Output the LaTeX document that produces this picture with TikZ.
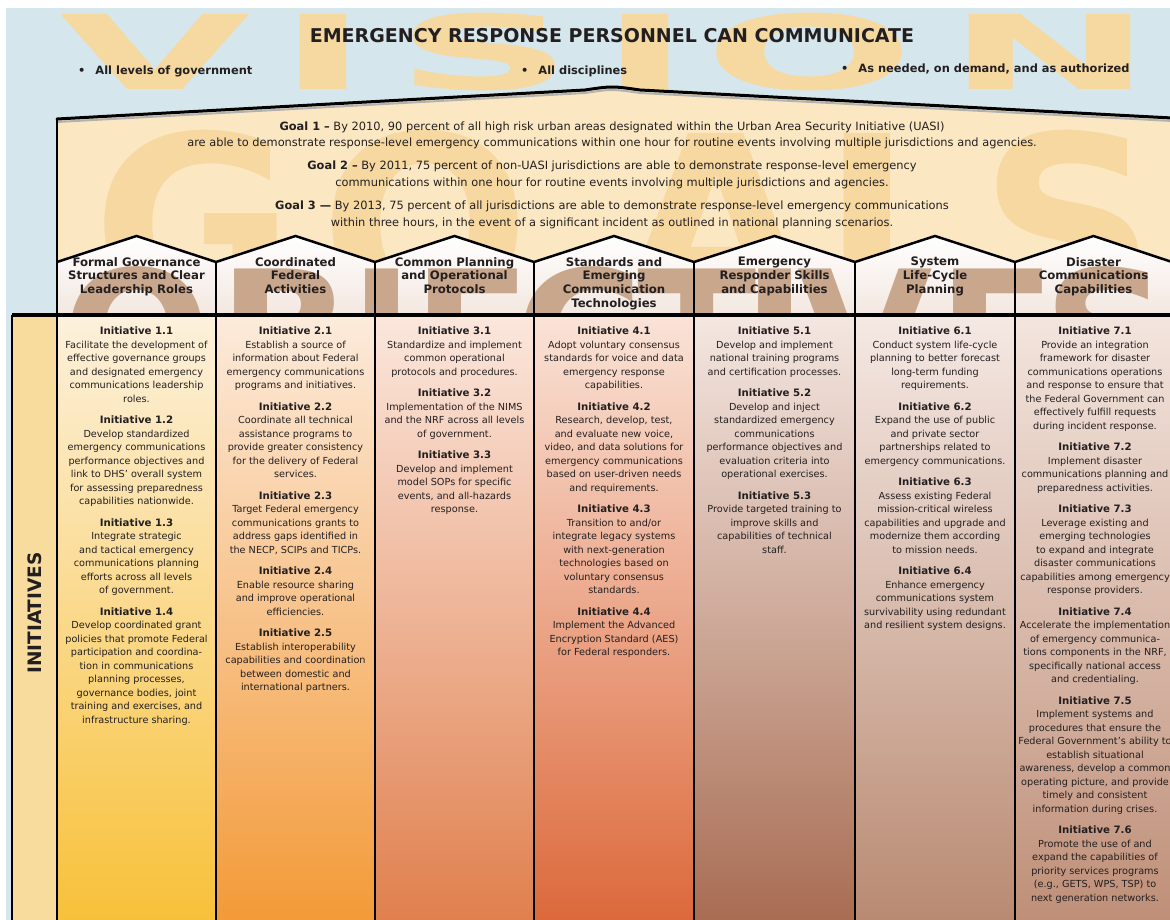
\documentclass[tikz,border=0pt]{standalone}
\usepackage{fontspec}
\setmainfont{DejaVu Sans}
\definecolor{bgblue}{HTML}{D5E7EC}
\definecolor{visc}{HTML}{F6D9A0}
\definecolor{goalbg}{HTML}{FBE8C3}
\definecolor{goalc}{HTML}{F6D8A0}
\definecolor{objc}{HTML}{C9A78C}
\definecolor{txt}{HTML}{231F20}
\definecolor{labc}{HTML}{F7DC9E}
\definecolor{hdrbot}{HTML}{F3E7E0}
\definecolor{ca}{HTML}{FDF1DC}\definecolor{cA}{HTML}{F8C13A}
\definecolor{cb}{HTML}{FCEBDC}\definecolor{cB}{HTML}{F39A38}
\definecolor{cc}{HTML}{FBE7DD}\definecolor{cC}{HTML}{E0804E}
\definecolor{cd}{HTML}{FAE3D7}\definecolor{cD}{HTML}{DC693B}
\definecolor{ce}{HTML}{F4E7E1}\definecolor{cE}{HTML}{A86D53}
\definecolor{cf}{HTML}{F5E9E4}\definecolor{cF}{HTML}{B98A72}
\definecolor{cg}{HTML}{F3E5DE}\definecolor{cG}{HTML}{BF8F78}
\newcommand{\inihead}[1]{{\fontsize{10.2}{13.5}\selectfont\bfseries #1}}
\begin{document}
\begin{tikzpicture}[x=1pt,y=-1pt,
  bigv/.style={font=\fontsize{103}{103}\selectfont\bfseries, text=visc, xscale=2.4, inner sep=0, anchor=base},
  bigg/.style={font=\fontsize{247}{247}\selectfont\bfseries, text=goalc, inner sep=0, anchor=base},
  bigo/.style={font=\fontsize{175}{175}\selectfont\bfseries, text=objc, inner sep=0, anchor=base},
  bul/.style={font=\fontsize{11.4}{12}\selectfont\bfseries, text=txt, inner sep=0, anchor=base west},
  goaltxt/.style={font=\fontsize{11.4}{12}\selectfont, text=txt, inner sep=0, anchor=base},
  hdr/.style={font=\fontsize{11.7}{13.7}\selectfont\bfseries, text=txt, inner sep=0, anchor=north, align=center},
  initxt/.style={font=\fontsize{9.7}{13.5}\selectfont, text=txt, inner sep=0, anchor=north, align=center},
  bline/.style={line width=2.8pt, black},
  rline/.style={line width=2.5pt, black, line join=miter}
]
\useasboundingbox (0,0) rectangle (1170,920);
\fill[white] (0,0) rectangle (1170,920);
\fill[bgblue] (6,8) rectangle (1170,920);

% VISION letters
\begin{scope}
\clip (6,8) rectangle (1170,130);
\foreach \ch/\cx/\nm in {V/155/lv1, I/323/lv2, S/485/lv3, I/645/lv4, O/810/lv5, N/1050/lv6}
  \node[bigv] (\nm) at (\cx,90) {\ch};
\end{scope}

% title and bullets
\node[font=\fontsize{19}{19}\selectfont\bfseries, text=txt, inner sep=0, anchor=base] (title) at (612,43) {EMERGENCY RESPONSE PERSONNEL CAN COMMUNICATE};
\node[bul] (b1) at (78,74.5) {•\hspace{10pt}All levels of government};
\node[bul] (b2) at (521,74.5) {•\hspace{10pt}All disciplines};
\node[bul] (b3) at (841,73) {•\hspace{10pt}As needed, on demand, and as authorized};

% goal box
\path[fill=goalbg] (57,315) -- (57,119) -- (585,90) .. controls (612,86) .. (640,90) -- (1172,118) -- (1172,315) -- cycle;
\begin{scope}
\clip (57,315) -- (57,119) -- (585,90) .. controls (612,86) .. (640,90) -- (1172,118) -- (1172,315) -- cycle;
\foreach \ch/\cx/\nm in {G/194/lg1, O/425/lg2, A/716/lg3, L/900/lg4, S/1068/lg5}
  \node[bigg] (\nm) at (\cx,313) {\ch};
\end{scope}
\draw[line width=2pt, gray!60, line cap=round] (57,122) -- (585,93) .. controls (612,89) .. (640,93) -- (1172,121);
\draw[line width=3pt, line cap=round] (57,119) -- (585,90) .. controls (612,86) .. (640,90) -- (1172,118);
\draw[bline] (57,119) -- (57,262);

\node[goaltxt] (g1a) at (612,131) {\textbf{Goal 1 –} By 2010, 90 percent of all high risk urban areas designated within the Urban Area Security Initiative (UASI)};
\node[goaltxt] (g1b) at (612,147) {are able to demonstrate response-level emergency communications within one hour for routine events involving multiple jurisdictions and agencies.};
\node[goaltxt] (g2a) at (612,170) {\textbf{Goal 2 –} By 2011, 75 percent of non-UASI jurisdictions are able to demonstrate response-level emergency};
\node[goaltxt] (g2b) at (612,187) {communications within one hour for routine events involving multiple jurisdictions and agencies.};
\node[goaltxt] (g3a) at (612,210) {\textbf{Goal 3 —} By 2013, 75 percent of all jurisdictions are able to demonstrate response-level emergency communications};
\node[goaltxt] (g3b) at (612,226) {within three hours, in the event of a significant incident as outlined in national planning scenarios.};

% objective headers
\foreach \xa/\xb in {57/216, 216/375, 375/534, 534/694, 694/855, 855/1015, 1015/1172}
  \shade[top color=white, bottom color=hdrbot] (\xa,315) -- (\xa,262) -- ({(\xa+\xb)/2},236) -- (\xb,262) -- (\xb,315) -- cycle;
\begin{scope}
\clip (57,262) rectangle (1172,315);
\foreach \ch/\cx/\nm in {O/137/lo1, B/285/lo2, J/382/lo3, E/472/lo4, C/580/lo5, T/697/lo6, I/775/lo7, V/865/lo8, E/997/lo9, S/1107/lo10}
  \node[bigo] (\nm) at (\cx,396) {\ch};
\end{scope}
\draw[rline] (57,262) -- (136.5,236) -- (216,262) -- (295.5,236) -- (375,262) -- (454.5,236) -- (534,262) -- (614,236) -- (694,262) -- (774.5,236) -- (855,262) -- (935,236) -- (1015,262) -- (1093.5,236) -- (1172,262);
\foreach \x in {57,216,375,534,694,855,1015}
  \draw[bline] (\x,262) -- (\x,315);

\node[hdr] (h1) at (136.5,257) {Formal Governance\\Structures and Clear\\Leadership Roles};
\node[hdr] (h2) at (295.5,257) {Coordinated\\Federal\\Activities};
\node[hdr] (h3) at (454.5,257) {Common Planning\\and Operational\\Protocols};
\node[hdr] (h4) at (614,257) {Standards and\\Emerging\\Communication\\Technologies};
\node[hdr] (h5) at (774.5,257) {Emergency\\Responder Skills\\and Capabilities};
\node[hdr] (h6) at (935,257) {System\\Life-Cycle\\Planning};
\node[hdr] (h7) at (1093.5,257) {Disaster\\Communications\\Capabilities};

% initiatives area
\fill[labc] (12,315) rectangle (57,920);
\shade[top color=ca, bottom color=cA] (57,315) rectangle (216,920);
\shade[top color=cb, bottom color=cB] (216,315) rectangle (375,920);
\shade[top color=cc, bottom color=cC] (375,315) rectangle (534,920);
\shade[top color=cd, bottom color=cD] (534,315) rectangle (694,920);
\shade[top color=ce, bottom color=cE] (694,315) rectangle (855,920);
\shade[top color=cf, bottom color=cF] (855,315) rectangle (1015,920);
\shade[top color=cg, bottom color=cG] (1015,315) rectangle (1172,920);
\draw[line width=3.5pt] (12,315) -- (1172,315);
\foreach \x in {12,57,216,375,534,694,855,1015}
  \draw[bline] (\x,315) -- (\x,920);

\node[rotate=90, font=\fontsize{18.5}{18.5}\selectfont\bfseries, text=txt, inner sep=0] (lab) at (35,613) {INITIATIVES};

\node[initxt] (c1) at (136.5,327) {\inihead{Initiative 1.1}\\
Facilitate the development of\\
effective governance groups\\
and designated emergency\\
communications leadership\\
roles.\\[8pt]
\inihead{Initiative 1.2}\\
Develop standardized\\
emergency communications\\
performance objectives and\\
link to DHS’ overall system\\
for assessing preparedness\\
capabilities nationwide.\\[8pt]
\inihead{Initiative 1.3}\\
Integrate strategic\\
and tactical emergency\\
communications planning\\
efforts across all levels\\
of government.\\[8pt]
\inihead{Initiative 1.4}\\
Develop coordinated grant\\
policies that promote Federal\\
participation and coordina-\\
tion in communications\\
planning processes,\\
governance bodies, joint\\
training and exercises, and\\
infrastructure sharing.};

\node[initxt] (c2) at (295.5,327) {\inihead{Initiative 2.1}\\
Establish a source of\\
information about Federal\\
emergency communications\\
programs and initiatives.\\[8pt]
\inihead{Initiative 2.2}\\
Coordinate all technical\\
assistance programs to\\
provide greater consistency\\
for the delivery of Federal\\
services.\\[8pt]
\inihead{Initiative 2.3}\\
Target Federal emergency\\
communications grants to\\
address gaps identified in\\
the NECP, SCIPs and TICPs.\\[8pt]
\inihead{Initiative 2.4}\\
Enable resource sharing\\
and improve operational\\
efficiencies.\\[8pt]
\inihead{Initiative 2.5}\\
Establish interoperability\\
capabilities and coordination\\
between domestic and\\
international partners.};

\node[initxt] (c3) at (454.5,327) {\inihead{Initiative 3.1}\\
Standardize and implement\\
common operational\\
protocols and procedures.\\[8pt]
\inihead{Initiative 3.2}\\
Implementation of the NIMS\\
and the NRF across all levels\\
of government.\\[8pt]
\inihead{Initiative 3.3}\\
Develop and implement\\
model SOPs for specific\\
events, and all-hazards\\
response.};

\node[initxt] (c4) at (614,327) {\inihead{Initiative 4.1}\\
Adopt voluntary consensus\\
standards for voice and data\\
emergency response\\
capabilities.\\[8pt]
\inihead{Initiative 4.2}\\
Research, develop, test,\\
and evaluate new voice,\\
video, and data solutions for\\
emergency communications\\
based on user-driven needs\\
and requirements.\\[8pt]
\inihead{Initiative 4.3}\\
Transition to and/or\\
integrate legacy systems\\
with next-generation\\
technologies based on\\
voluntary consensus\\
standards.\\[8pt]
\inihead{Initiative 4.4}\\
Implement the Advanced\\
Encryption Standard (AES)\\
for Federal responders.};

\node[initxt] (c5) at (774.5,327) {\inihead{Initiative 5.1}\\
Develop and implement\\
national training programs\\
and certification processes.\\[8pt]
\inihead{Initiative 5.2}\\
Develop and inject\\
standardized emergency\\
communications\\
performance objectives and\\
evaluation criteria into\\
operational exercises.\\[8pt]
\inihead{Initiative 5.3}\\
Provide targeted training to\\
improve skills and\\
capabilities of technical\\
staff.};

\node[initxt] (c6) at (935,327) {\inihead{Initiative 6.1}\\
Conduct system life-cycle\\
planning to better forecast\\
long-term funding\\
requirements.\\[8pt]
\inihead{Initiative 6.2}\\
Expand the use of public\\
and private sector\\
partnerships related to\\
emergency communications.\\[8pt]
\inihead{Initiative 6.3}\\
Assess existing Federal\\
mission-critical wireless\\
capabilities and upgrade and\\
modernize them according\\
to mission needs.\\[8pt]
\inihead{Initiative 6.4}\\
Enhance emergency\\
communications system\\
survivability using redundant\\
and resilient system designs.};

\node[initxt] (c7) at (1095,327) {\inihead{Initiative 7.1}\\
Provide an integration\\
framework for disaster\\
communications operations\\
and response to ensure that\\
the Federal Government can\\
effectively fulfill requests\\
during incident response.\\[8pt]
\inihead{Initiative 7.2}\\
Implement disaster\\
communications planning and\\
preparedness activities.\\[8pt]
\inihead{Initiative 7.3}\\
Leverage existing and\\
emerging technologies\\
to expand and integrate\\
disaster communications\\
capabilities among emergency\\
response providers.\\[8pt]
\inihead{Initiative 7.4}\\
Accelerate the implementation\\
of emergency communica-\\
tions components in the NRF,\\
specifically national access\\
and credentialing.\\[8pt]
\inihead{Initiative 7.5}\\
Implement systems and\\
procedures that ensure the\\
Federal Government’s ability to\\
establish situational\\
awareness, develop a common\\
operating picture, and provide\\
timely and consistent\\
information during crises.\\[8pt]
\inihead{Initiative 7.6}\\
Promote the use of and\\
expand the capabilities of\\
priority services programs\\
(e.g., GETS, WPS, TSP) to\\
next generation networks.};
\end{tikzpicture}
\end{document}
